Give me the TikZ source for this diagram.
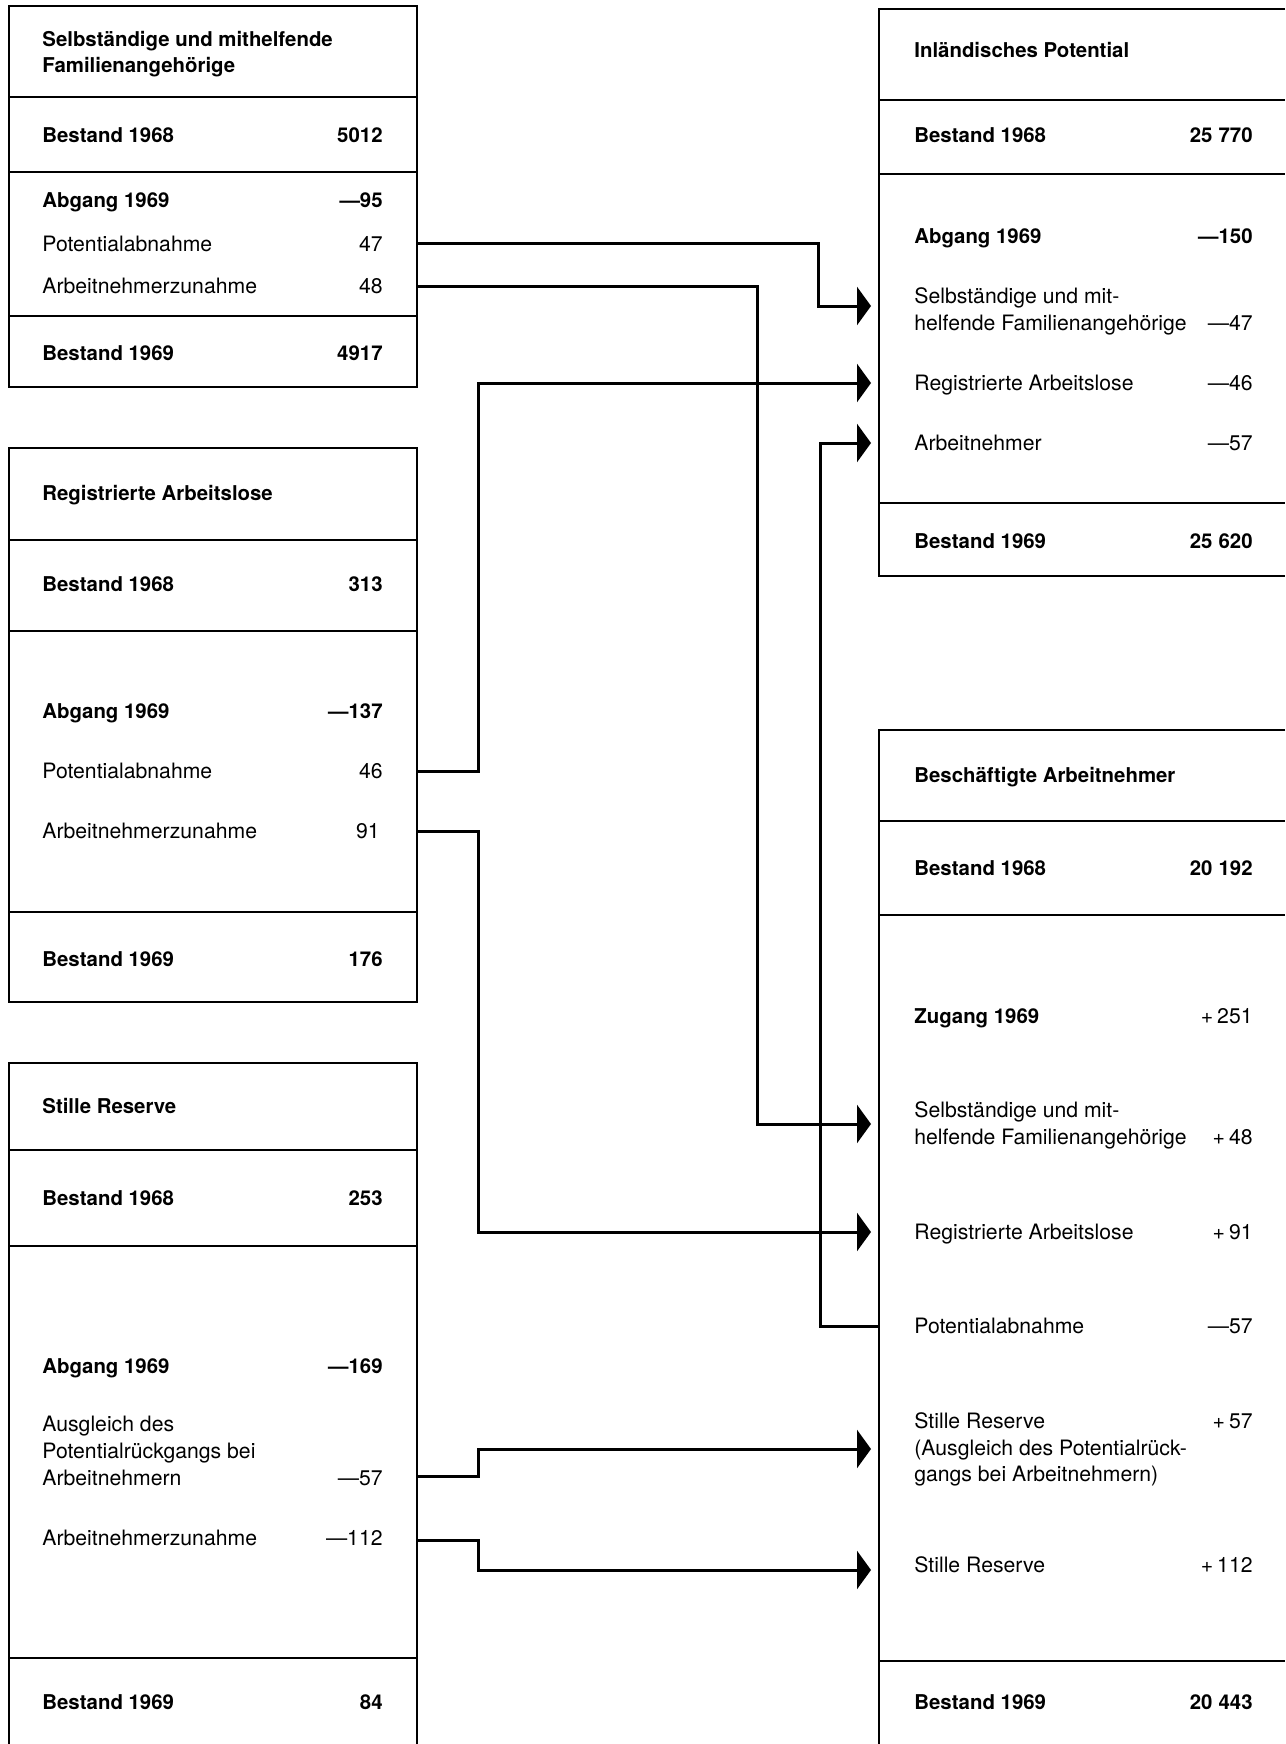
\documentclass[tikz,border=0pt]{standalone}
\usepackage{fontspec}
\setmainfont{TeX Gyre Heros}
\usetikzlibrary{arrows.meta}
\newcommand{\gapn}{\kern3pt}
\newcommand{\plusn}{+\kern2pt}
\begin{document}
\begin{tikzpicture}[x=0.5pt,y=-0.5pt,
  lbl/.style={anchor=base west, inner sep=0pt, font=\fontsize{10.6}{13}\selectfont},
  blbl/.style={anchor=base west, inner sep=0pt, font=\fontsize{10.2}{13}\bfseries\selectfont},
  num/.style={anchor=base east, inner sep=0pt, font=\fontsize{10.6}{13}\selectfont},
  bnum/.style={anchor=base east, inner sep=0pt, font=\fontsize{10.2}{13}\bfseries\selectfont},
  frame/.style={line width=1.4pt},
  rule/.style={line width=0.8pt},
  flow/.style={line width=1.5pt, -{Triangle[length=7pt,width=19pt]}}
]
\fill[white] (0,0) rectangle (1285,1744);
\useasboundingbox (0,0) rectangle (1285,1744);

% ---------- Box 1: Selbstaendige
\draw[frame] (9,6) rectangle (417,387);
\foreach \y in {97,172,316} \draw[rule] (9,\y) -- (417,\y);
\node[blbl] (a0) at (42,47) {Selbständige und mithelfende};
\node[blbl] (a0b) at (42,73) {Familienangehörige};
\node[blbl] (a1) at (42,143) {Bestand 1968};   \node[bnum] (a1n) at (383,143) {5012};
\node[blbl] (a2) at (42,208) {Abgang 1969};    \node[bnum] (a2n) at (383,208) {—95};
\node[lbl]  (a3) at (42,251) {Potentialabnahme}; \node[num] (a3n) at (383,251) {47};
\node[lbl]  (a4) at (42,293) {Arbeitnehmerzunahme}; \node[num] (a4n) at (383,293) {48};
\node[blbl] (a5) at (42,360) {Bestand 1969};   \node[bnum] (a5n) at (383,360) {4917};

% ---------- Box 2: Registrierte Arbeitslose
\draw[frame] (9,448) rectangle (417,1002);
\foreach \y in {540,631,912} \draw[rule] (9,\y) -- (417,\y);
\node[blbl] (b0) at (42,500) {Registrierte Arbeitslose};
\node[blbl] (b1) at (42,591) {Bestand 1968};   \node[bnum] (b1n) at (383,591) {313};
\node[blbl] (b2) at (42,718) {Abgang 1969};    \node[bnum] (b2n) at (383,718) {—137};
\node[lbl]  (b3) at (42,778) {Potentialabnahme}; \node[num] (b3n) at (383,778) {46};
\node[lbl]  (b4) at (42,838) {Arbeitnehmerzunahme}; \node[num] (b4n) at (380,838) {91};
\node[blbl] (b5) at (42,966) {Bestand 1969};   \node[bnum] (b5n) at (383,966) {176};

% ---------- Box 3: Stille Reserve
\draw[frame] (9,1744) -- (9,1063) -- (417,1063) -- (417,1744);
\foreach \y in {1150,1246,1658} \draw[rule] (9,\y) -- (417,\y);
\node[blbl] (c0) at (42,1113) {Stille Reserve};
\node[blbl] (c1) at (42,1205) {Bestand 1968};  \node[bnum] (c1n) at (383,1205) {253};
\node[blbl] (c2) at (42,1373) {Abgang 1969};   \node[bnum] (c2n) at (383,1373) {—169};
\node[lbl]  (c3a) at (42,1431) {Ausgleich des};
\node[lbl]  (c3b) at (42,1458) {Potentialrückgangs bei};
\node[lbl]  (c3c) at (42,1485) {Arbeitnehmern}; \node[num] (c3n) at (383,1485) {—57};
\node[lbl]  (c4) at (42,1545) {Arbeitnehmerzunahme}; \node[num] (c4n) at (383,1545) {—112};
\node[blbl] (c5) at (42,1709) {Bestand 1969};  \node[bnum] (c5n) at (383,1709) {84};

% ---------- Right box 1: Inlaendisches Potential
\draw[frame] (1285,9) -- (879,9) -- (879,576) -- (1285,576);
\foreach \y in {100,174,503} \draw[rule] (879,\y) -- (1285,\y);
\node[blbl] (d0) at (914,58) {Inländisches Potential};
\node[blbl] (d1) at (914,143) {Bestand 1968};  \node[bnum] (d1n) at (1253,143) {25\gapn 770};
\node[blbl] (d2) at (914,243) {Abgang 1969};   \node[bnum] (d2n) at (1253,243) {—150};
\node[lbl]  (d3a) at (914,303) {Selbständige und mit-};
\node[lbl]  (d3b) at (914,330) {helfende Familienangehörige}; \node[num] (d3n) at (1253,330) {—47};
\node[lbl]  (d4) at (914,390) {Registrierte Arbeitslose}; \node[num] (d4n) at (1253,390) {—46};
\node[lbl]  (d5) at (914,450) {Arbeitnehmer};  \node[num] (d5n) at (1253,450) {—57};
\node[blbl] (d6) at (914,548) {Bestand 1969};  \node[bnum] (d6n) at (1253,548) {25\gapn 620};

% ---------- Right box 2: Beschaeftigte Arbeitnehmer
\draw[frame] (1285,730) -- (879,730) -- (879,1744);
\foreach \y in {821,915,1661} \draw[rule] (879,\y) -- (1285,\y);
\node[blbl] (e0) at (914,782) {Beschäftigte Arbeitnehmer};
\node[blbl] (e1) at (914,875) {Bestand 1968};  \node[bnum] (e1n) at (1253,875) {20\gapn 192};
\node[blbl] (e2) at (914,1023) {Zugang 1969};  \node[num] (e2n) at (1253,1023) {\plusn 251};
\node[lbl]  (e3a) at (914,1117) {Selbständige und mit-};
\node[lbl]  (e3b) at (914,1144) {helfende Familienangehörige}; \node[num] (e3n) at (1253,1144) {\plusn 48};
\node[lbl]  (e4) at (914,1239) {Registrierte Arbeitslose}; \node[num] (e4n) at (1253,1239) {\plusn 91};
\node[lbl]  (e5) at (914,1333) {Potentialabnahme}; \node[num] (e5n) at (1253,1333) {—57};
\node[lbl]  (e6a) at (914,1428) {Stille Reserve}; \node[num] (e6n) at (1253,1428) {\plusn 57};
\node[lbl]  (e6b) at (914,1455) {(Ausgleich des Potentialrück-};
\node[lbl]  (e6c) at (914,1481) {gangs bei Arbeitnehmern)};
\node[lbl]  (e7) at (914,1572) {Stille Reserve}; \node[num] (e7n) at (1253,1572) {\plusn 112};
\node[blbl] (e8) at (914,1709) {Bestand 1969};  \node[bnum] (e8n) at (1253,1709) {20\gapn 443};

% ---------- connector ends
\coordinate (s1) at (417,244);  \coordinate (t1) at (871,306);
\coordinate (s2) at (417,286);  \coordinate (t2) at (871,1124);
\coordinate (s3) at (417,771);  \coordinate (t3) at (871,383);
\coordinate (s4) at (417,831);  \coordinate (t4) at (871,1232);
\coordinate (s5) at (879,1326); \coordinate (t5) at (871,443);
\coordinate (s6) at (417,1476); \coordinate (t6) at (871,1449);
\coordinate (s7) at (417,1540); \coordinate (t7) at (871,1570);

\draw[flow] (s1) -- ++(401,0) |- (t1);
\draw[flow] (s2) -- ++(340,0) |- (t2);
\draw[flow] (s3) -- ++(61,0) |- (t3);
\draw[flow] (s4) -- ++(61,0) |- (t4);
\draw[flow] (s5) -- ++(-59,0) |- (t5);
\draw[flow] (s6) -- ++(61,0) |- (t6);
\draw[flow] (s7) -- ++(61,0) |- (t7);
\end{tikzpicture}
\end{document}
